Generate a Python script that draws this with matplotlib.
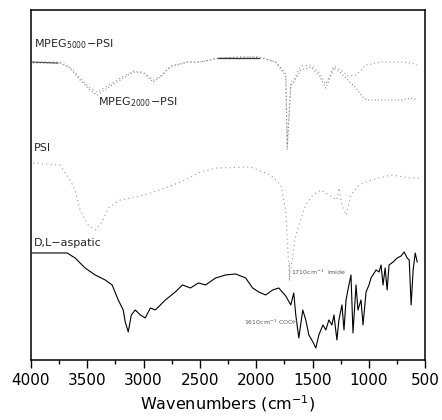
import matplotlib
matplotlib.use('Agg')
import matplotlib.pyplot as plt
from matplotlib.ticker import MultipleLocator

# wavenumber (cm-1) and relative transmittance (arbitrary offset units)
asp_wn = [3990, 3679, 3608, 3519, 3430, 3341, 3279, 3225, 3181, 3163, 3136,
          3109, 3074, 3029, 2985, 2940, 2896, 2851, 2807, 2718, 2655, 2584,
          2513, 2450, 2361, 2272, 2183, 2094, 2032, 1978, 1916, 1854, 1800,
          1738, 1693, 1667, 1649, 1622, 1587, 1560, 1533, 1497, 1471, 1444,
          1408, 1382, 1355, 1328, 1310, 1284, 1266, 1239, 1221, 1203, 1186,
          1159, 1141, 1114, 1097, 1070, 1052, 1025, 999, 981, 936, 910, 892,
          874, 856, 838, 821, 785, 749, 714, 687, 660, 642, 625, 607, 589, 571]
asp_t = [107, 107, 102, 92, 85, 80, 75, 60, 50, 38, 28,
         45, 50, 45, 42, 52, 50, 55, 60, 68, 75, 72,
         77, 75, 82, 85, 86, 82, 72, 68, 65, 70, 72,
         64, 55, 67, 45, 22, 50, 40, 25, 18, 12, 25,
         35, 30, 40, 35, 45, 20, 40, 55, 30, 60, 70,
         85, 27, 75, 50, 60, 35, 68, 75, 82, 90, 88, 95,
         75, 92, 70, 95, 98, 102, 104, 108, 102, 100, 55, 90, 107, 98]

psi_wn = [3982, 3742, 3653, 3608, 3564, 3492, 3430, 3368, 3314, 3207, 3029,
          2851, 2673, 2495, 2361, 2050, 1871, 1782, 1738, 1705, 1658, 1622,
          1560, 1497, 1426, 1355, 1284, 1266, 1239, 1203, 1159, 1088, 981,
          803, 625, 536]
psi_t = [197, 195, 180, 170, 150, 135, 130, 138, 152, 160, 164,
         170, 178, 188, 192, 193, 185, 175, 150, 80, 120, 135,
         155, 165, 170, 165, 160, 172, 155, 145, 165, 175, 180,
         185, 182, 182]

mpeg_wn = [3982, 3742, 3653, 3564, 3475, 3412, 3323, 3207, 3092, 3003, 2913,
           2851, 2762, 2611, 2495, 2335, 2139, 1978, 1827, 1765, 1738, 1725,
           1693, 1667, 1604, 1515, 1444, 1382, 1310, 1248, 1186, 1114, 1070,
           1025, 892, 714, 625, 571]
mpeg2000_t = [297, 297, 292, 280, 270, 265, 272, 280, 288, 287, 278,
              283, 293, 298, 298, 302, 303, 303, 298, 288, 285, 210,
              275, 278, 290, 293, 285, 272, 292, 287, 280, 272, 265,
              260, 260, 260, 262, 260]
mpeg5000_t = [298, 298, 293, 282, 272, 268, 274, 282, 289, 288, 280,
              284, 294, 298, 298, 302, 303, 303, 298, 290, 287, 215,
              278, 280, 294, 295, 288, 276, 294, 290, 284, 285, 290,
              295, 298, 298, 297, 295]

# short solid stretches that print darker in the scan
mpeg_flat_wn = [2335, 1978]
mpeg_flat_t = [302, 302]
mpeg_start_wn = [3990, 3760]
mpeg_start_t = [298, 297]

fig = plt.figure(figsize=(4.42, 4.2), dpi=100)
ax = fig.add_axes([0.070, 0.143, 0.892, 0.833])

ax.plot(mpeg_wn, mpeg5000_t, color='0.6', lw=0.8, ls=(0, (1, 2.5)))
ax.plot(mpeg_wn, mpeg2000_t, color='0.55', lw=0.8, ls=(0, (1, 2)))
ax.plot(mpeg_flat_wn, mpeg_flat_t, color='0.2', lw=0.9)
ax.plot(mpeg_start_wn, mpeg_start_t, color='0.3', lw=0.8)
ax.plot(psi_wn, psi_t, color='0.6', lw=0.8, ls=(0, (1, 3)))
ax.plot(asp_wn, asp_t, color='black', lw=0.8)

ax.set_xlim(4000, 500)
ax.set_ylim(0, 350)
ax.set_yticks([])
ax.xaxis.set_major_locator(MultipleLocator(500))
ax.xaxis.set_minor_locator(MultipleLocator(250))
ax.tick_params(axis='x', which='major', direction='out', length=6, width=1,
               labelsize=11, top=False)
ax.tick_params(axis='x', which='minor', direction='out', length=3, width=1,
               top=False)
for s in ax.spines.values():
    s.set_linewidth(1.1)

ax.set_xlabel('Wavenumbers (cm$^{-1}$)', fontsize=11.5, labelpad=4)

lab = dict(fontsize=8, color='0.15', family=['Liberation Sans Narrow', 'DejaVu Sans'])
ax.text(3975, 313, 'MPEG$_{5000}$\u2212PSI', **lab)
ax.text(3405, 255, 'MPEG$_{2000}$\u2212PSI', **lab)
ax.text(3970, 209, 'PSI', **lab)
ax.text(3970, 114, 'D,L\u2212aspatic', **lab)

small = dict(fontsize=4.5, color='0.35')
ax.plot([1705, 1705], [80, 98], color='0.5', lw=0.6, ls=(0, (1, 1)))
ax.text(1690, 88, '1710cm$^{-1}$  imide', va='center', **small)
ax.text(1630, 38, '1610cm$^{-1}$ COOH', va='center', ha='right', **small)

fig.savefig('out.png', dpi=100)
